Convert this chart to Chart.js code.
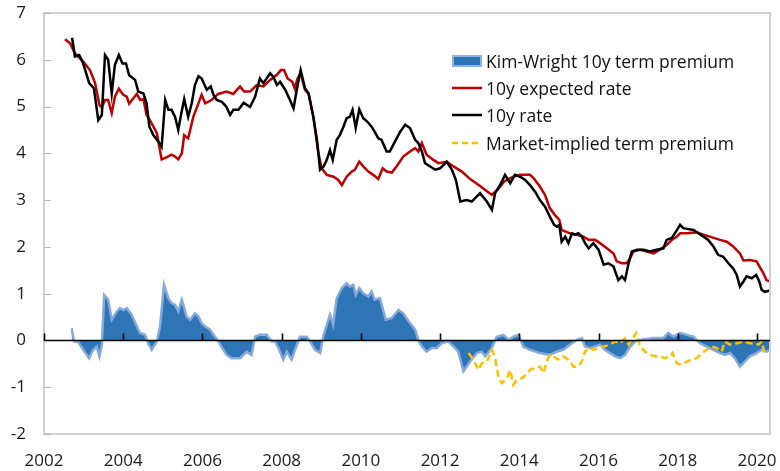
<!DOCTYPE html>
<html>
<head>
<meta charset="utf-8">
<script src="https://cdn.jsdelivr.net/npm/chart.js@4"></script>
<style>
  html, body { margin: 0; padding: 0; background: #fff; }
  #wrap { position: relative; width: 780px; height: 471px; }
  #legend { position: absolute; left: 452px; top: 47px; font-family: "Open Sans", sans-serif; font-size: 17.5px; color: #111; }
  .row { height: 27.3px; display: flex; align-items: center; white-space: nowrap; }
  .row svg { margin-right: 4px; }
</style>
</head>
<body>
<div id="wrap">
  <canvas id="chart" width="780" height="471"></canvas>
  <div id="legend">
    <div class="row"><svg width="30" height="12"><rect x="1" y="1" width="28" height="10" fill="#2E75B6" stroke="#8FB1E0" stroke-width="2"/></svg>Kim-Wright 10y term premium</div>
    <div class="row"><svg width="30" height="12"><line x1="0" y1="6" x2="30" y2="6" stroke="#C00000" stroke-width="2.5"/></svg>10y expected rate</div>
    <div class="row"><svg width="30" height="12"><line x1="0" y1="6" x2="30" y2="6" stroke="#000" stroke-width="2.5"/></svg>10y rate</div>
    <div class="row"><svg width="30" height="12"><line x1="0" y1="6" x2="30" y2="6" stroke="#FFC000" stroke-width="2.5" stroke-dasharray="6,4"/></svg>Market-implied term premium</div>
  </div>
</div>
<script>
// 10y expected rate (red)
const expYears = [2002.53, 2002.66, 2002.78, 2002.99, 2003.16, 2003.29, 2003.40, 2003.46, 2003.54, 2003.62, 2003.71, 2003.79, 2003.89, 2004.00, 2004.09, 2004.15, 2004.34, 2004.43, 2004.51, 2004.59, 2004.72, 2004.85, 2004.97, 2005.10, 2005.22, 2005.31, 2005.39, 2005.48, 2005.54, 2005.64, 2005.77, 2005.98, 2006.07, 2006.23, 2006.40, 2006.61, 2006.78, 2006.95, 2007.05, 2007.20, 2007.37, 2007.54, 2007.71, 2007.88, 2007.98, 2008.06, 2008.15, 2008.27, 2008.33, 2008.40, 2008.48, 2008.59, 2008.68, 2008.80, 2008.93, 2009.01, 2009.14, 2009.31, 2009.43, 2009.52, 2009.64, 2009.77, 2009.85, 2009.96, 2010.06, 2010.19, 2010.31, 2010.44, 2010.55, 2010.65, 2010.78, 2010.91, 2011.07, 2011.24, 2011.37, 2011.45, 2011.54, 2011.66, 2011.83, 2011.96, 2012.17, 2012.34, 2012.55, 2012.76, 2013.01, 2013.20, 2013.31, 2013.48, 2013.62, 2013.85, 2014.02, 2014.27, 2014.36, 2014.52, 2014.65, 2014.77, 2014.90, 2015.01, 2015.07, 2015.16, 2015.28, 2015.45, 2015.62, 2015.75, 2015.91, 2016.04, 2016.21, 2016.38, 2016.46, 2016.59, 2016.71, 2016.80, 2016.88, 2017.05, 2017.22, 2017.39, 2017.55, 2017.72, 2017.85, 2017.98, 2018.06, 2018.23, 2018.48, 2018.65, 2018.81, 2019.07, 2019.24, 2019.40, 2019.57, 2019.66, 2019.83, 2019.99, 2020.16, 2020.24, 2020.33];
const expValues = [6.44, 6.35, 6.14, 5.96, 5.78, 5.50, 5.03, 4.98, 5.14, 5.14, 4.86, 5.21, 5.38, 5.25, 5.21, 5.06, 5.27, 5.14, 5.16, 4.82, 4.64, 4.43, 3.87, 3.92, 3.97, 3.93, 3.87, 4.00, 4.39, 4.32, 4.78, 5.25, 5.07, 5.14, 5.27, 5.32, 5.27, 5.43, 5.32, 5.32, 5.46, 5.43, 5.57, 5.68, 5.78, 5.78, 5.60, 5.53, 5.39, 5.60, 5.71, 5.35, 5.28, 4.78, 4.00, 3.68, 3.54, 3.50, 3.43, 3.32, 3.50, 3.61, 3.65, 3.82, 3.72, 3.61, 3.54, 3.45, 3.68, 3.61, 3.59, 3.73, 3.93, 4.04, 4.11, 4.04, 4.22, 3.97, 3.86, 3.79, 3.82, 3.72, 3.61, 3.45, 3.30, 3.18, 3.11, 3.25, 3.40, 3.50, 3.54, 3.54, 3.47, 3.29, 3.11, 2.83, 2.68, 2.58, 2.36, 2.33, 2.29, 2.26, 2.22, 2.15, 2.15, 2.08, 1.97, 1.86, 1.69, 1.65, 1.65, 1.76, 1.90, 1.94, 1.90, 1.86, 1.94, 2.04, 2.15, 2.22, 2.29, 2.29, 2.31, 2.26, 2.22, 2.15, 2.11, 2.01, 1.86, 1.71, 1.72, 1.69, 1.44, 1.29, 1.26];

// 10y rate (black)
const rateYears = [2002.71, 2002.78, 2002.89, 2002.99, 2003.14, 2003.26, 2003.37, 2003.46, 2003.54, 2003.62, 2003.71, 2003.79, 2003.89, 2003.98, 2004.07, 2004.15, 2004.30, 2004.38, 2004.51, 2004.59, 2004.66, 2004.76, 2004.89, 2004.97, 2005.06, 2005.14, 2005.22, 2005.31, 2005.39, 2005.45, 2005.54, 2005.64, 2005.73, 2005.81, 2005.90, 2005.98, 2006.11, 2006.21, 2006.28, 2006.36, 2006.49, 2006.60, 2006.70, 2006.78, 2006.91, 2007.04, 2007.20, 2007.33, 2007.45, 2007.54, 2007.71, 2007.79, 2007.88, 2007.96, 2008.09, 2008.21, 2008.30, 2008.38, 2008.48, 2008.59, 2008.68, 2008.80, 2008.89, 2008.97, 2009.06, 2009.14, 2009.22, 2009.29, 2009.39, 2009.47, 2009.56, 2009.64, 2009.72, 2009.79, 2009.87, 2009.96, 2010.06, 2010.16, 2010.27, 2010.35, 2010.44, 2010.52, 2010.65, 2010.73, 2010.86, 2010.99, 2011.12, 2011.24, 2011.37, 2011.45, 2011.54, 2011.62, 2011.75, 2011.88, 2012.00, 2012.17, 2012.30, 2012.40, 2012.51, 2012.67, 2012.80, 2013.01, 2013.18, 2013.31, 2013.39, 2013.52, 2013.64, 2013.77, 2013.89, 2014.02, 2014.15, 2014.27, 2014.40, 2014.52, 2014.65, 2014.77, 2014.88, 2014.95, 2015.01, 2015.07, 2015.16, 2015.24, 2015.33, 2015.41, 2015.49, 2015.58, 2015.66, 2015.75, 2015.87, 2016.00, 2016.13, 2016.25, 2016.38, 2016.50, 2016.59, 2016.67, 2016.76, 2016.84, 2016.97, 2017.14, 2017.30, 2017.47, 2017.64, 2017.72, 2017.85, 2017.96, 2018.06, 2018.14, 2018.27, 2018.40, 2018.52, 2018.65, 2018.77, 2018.90, 2019.02, 2019.15, 2019.28, 2019.40, 2019.49, 2019.57, 2019.66, 2019.74, 2019.87, 2019.98, 2020.06, 2020.12, 2020.20, 2020.33];
const rateValues = [6.47, 6.07, 6.10, 5.92, 5.50, 5.39, 4.71, 4.82, 6.10, 6.00, 5.28, 5.89, 6.10, 5.92, 5.92, 5.67, 5.57, 5.32, 5.28, 5.07, 4.57, 4.39, 4.25, 4.14, 5.14, 4.93, 4.93, 4.78, 4.50, 4.78, 5.16, 4.78, 5.07, 5.46, 5.65, 5.60, 5.36, 5.43, 5.25, 5.14, 5.10, 5.00, 4.82, 4.93, 4.93, 5.08, 4.99, 5.21, 5.60, 5.50, 5.71, 5.64, 5.46, 5.53, 5.36, 5.14, 4.96, 5.35, 5.78, 5.39, 5.28, 4.78, 4.29, 3.65, 3.72, 3.86, 4.07, 3.86, 4.29, 4.39, 4.57, 4.75, 4.78, 4.93, 4.54, 4.94, 4.75, 4.68, 4.57, 4.46, 4.32, 4.29, 4.04, 4.04, 4.25, 4.46, 4.61, 4.54, 4.29, 4.22, 4.04, 3.79, 3.72, 3.65, 3.68, 3.82, 3.65, 3.43, 2.97, 3.00, 2.97, 3.15, 2.97, 2.79, 3.15, 3.33, 3.54, 3.36, 3.54, 3.50, 3.43, 3.32, 3.18, 3.00, 2.86, 2.65, 2.47, 2.43, 2.47, 2.11, 2.22, 2.08, 2.29, 2.26, 2.29, 2.22, 2.08, 1.97, 2.08, 1.94, 1.62, 1.65, 1.58, 1.29, 1.37, 1.29, 1.65, 1.90, 1.94, 1.94, 1.90, 1.94, 1.97, 2.15, 2.19, 2.33, 2.47, 2.40, 2.38, 2.36, 2.29, 2.22, 2.15, 2.01, 1.83, 1.79, 1.65, 1.54, 1.40, 1.15, 1.26, 1.37, 1.33, 1.40, 1.26, 1.08, 1.04, 1.07];

// Kim-Wright 10y term premium (blue area)
const tpYears = [2002.70, 2002.76, 2002.87, 2002.99, 2003.14, 2003.24, 2003.33, 2003.40, 2003.46, 2003.52, 2003.62, 2003.71, 2003.84, 2003.92, 2004.00, 2004.09, 2004.21, 2004.34, 2004.42, 2004.55, 2004.63, 2004.72, 2004.85, 2004.93, 2005.03, 2005.14, 2005.22, 2005.31, 2005.39, 2005.48, 2005.60, 2005.69, 2005.81, 2005.90, 2005.98, 2006.07, 2006.19, 2006.28, 2006.40, 2006.53, 2006.61, 2006.74, 2006.95, 2007.12, 2007.24, 2007.33, 2007.45, 2007.62, 2007.75, 2007.83, 2007.92, 2008.04, 2008.13, 2008.25, 2008.34, 2008.46, 2008.63, 2008.72, 2008.84, 2008.97, 2009.05, 2009.14, 2009.22, 2009.30, 2009.39, 2009.52, 2009.64, 2009.72, 2009.81, 2009.87, 2009.96, 2010.06, 2010.19, 2010.27, 2010.35, 2010.48, 2010.63, 2010.78, 2010.95, 2011.07, 2011.24, 2011.37, 2011.45, 2011.54, 2011.66, 2011.79, 2011.92, 2012.04, 2012.21, 2012.34, 2012.46, 2012.59, 2012.76, 2012.93, 2013.05, 2013.14, 2013.31, 2013.43, 2013.60, 2013.73, 2013.85, 2013.98, 2014.10, 2014.27, 2014.52, 2014.77, 2014.94, 2015.11, 2015.28, 2015.45, 2015.58, 2015.66, 2015.79, 2015.91, 2016.04, 2016.16, 2016.29, 2016.42, 2016.55, 2016.67, 2016.80, 2016.93, 2017.05, 2017.39, 2017.64, 2017.76, 2017.89, 2018.06, 2018.23, 2018.40, 2018.56, 2018.73, 2018.90, 2019.07, 2019.19, 2019.32, 2019.44, 2019.57, 2019.70, 2019.82, 2019.99, 2020.12, 2020.24, 2020.33];
const tpValues = [0.26, -0.02, -0.04, -0.20, -0.38, -0.20, -0.13, -0.34, -0.09, 0.97, 0.87, 0.44, 0.62, 0.69, 0.65, 0.69, 0.55, 0.31, 0.16, 0.12, -0.06, -0.20, -0.02, 0.30, 1.19, 0.90, 0.80, 0.76, 0.62, 0.87, 0.51, 0.44, 0.58, 0.51, 0.37, 0.30, 0.23, 0.12, -0.02, -0.20, -0.31, -0.38, -0.38, -0.24, -0.31, 0.08, 0.12, 0.12, -0.02, -0.02, -0.16, -0.41, -0.24, -0.41, -0.20, 0.08, 0.08, -0.02, -0.20, -0.27, 0.08, 0.33, 0.55, 0.33, 0.90, 1.12, 1.22, 1.15, 1.19, 0.97, 1.12, 1.01, 0.94, 1.05, 0.87, 0.90, 0.44, 0.48, 0.65, 0.58, 0.37, 0.23, 0.01, -0.13, -0.24, -0.16, -0.16, -0.06, -0.02, -0.13, -0.24, -0.66, -0.45, -0.27, -0.24, -0.34, -0.16, 0.08, 0.12, 0.01, 0.08, 0.12, -0.13, -0.20, -0.27, -0.31, -0.24, -0.20, -0.09, 0.01, 0.05, -0.13, -0.16, -0.13, -0.09, -0.20, -0.27, -0.34, -0.38, -0.31, -0.13, -0.02, 0.01, 0.05, 0.05, 0.16, 0.08, 0.16, 0.12, 0.08, -0.06, -0.13, -0.20, -0.27, -0.31, -0.27, -0.38, -0.56, -0.45, -0.34, -0.27, -0.20, -0.24, -0.20];

// Market-implied term premium (yellow dashed)
const mktYears = [2012.72, 2012.84, 2012.97, 2013.05, 2013.18, 2013.31, 2013.39, 2013.48, 2013.56, 2013.69, 2013.77, 2013.85, 2013.94, 2014.06, 2014.19, 2014.27, 2014.40, 2014.52, 2014.61, 2014.69, 2014.77, 2014.86, 2014.98, 2015.11, 2015.24, 2015.37, 2015.49, 2015.58, 2015.66, 2015.75, 2015.87, 2016.00, 2016.13, 2016.29, 2016.42, 2016.55, 2016.67, 2016.76, 2016.84, 2016.95, 2017.05, 2017.18, 2017.30, 2017.43, 2017.55, 2017.68, 2017.81, 2017.87, 2017.98, 2018.10, 2018.23, 2018.35, 2018.48, 2018.61, 2018.73, 2018.86, 2018.98, 2019.11, 2019.19, 2019.32, 2019.49, 2019.66, 2019.82, 2019.95, 2020.04, 2020.12, 2020.20];
const mktValues = [-0.27, -0.41, -0.63, -0.49, -0.45, -0.20, -0.38, -0.81, -0.91, -0.81, -0.63, -0.95, -0.84, -0.81, -0.72, -0.63, -0.59, -0.56, -0.70, -0.45, -0.31, -0.34, -0.41, -0.34, -0.41, -0.56, -0.56, -0.45, -0.24, -0.16, -0.20, -0.16, -0.13, -0.09, -0.02, -0.06, 0.05, -0.09, 0.01, 0.16, -0.13, -0.24, -0.31, -0.34, -0.34, -0.38, -0.34, -0.27, -0.49, -0.52, -0.45, -0.41, -0.38, -0.27, -0.20, -0.13, -0.16, -0.24, -0.02, -0.09, -0.06, -0.02, -0.06, -0.06, -0.09, -0.02, -0.31];

const xTicks = [2002, 2004, 2006, 2008, 2010, 2012, 2014, 2016, 2018, 2020];
const yTicks = [-2, -1, 0, 1, 2, 3, 4, 5, 6, 7];

function toPoints(xs, ys) {
  return xs.map((x, i) => ({ x: x, y: ys[i] }));
}

const FONT = '"Open Sans", sans-serif';

// grey frame + inner y ticks, then the black zero line with year ticks over the area
const framePlugin = {
  id: 'frame',
  afterDraw(chart) {
    const { ctx, chartArea: a } = chart;
    const x = chart.scales.x;
    const y = chart.scales.y;
    ctx.save();
    ctx.strokeStyle = '#d0d0d0';
    ctx.lineWidth = 2;
    ctx.strokeRect(a.left, a.top, a.right - a.left, a.bottom - a.top);
    ctx.strokeStyle = '#b5b5b5';
    ctx.lineWidth = 1;
    yTicks.forEach(v => {
      if (v === 0) return;
      const py = Math.round(y.getPixelForValue(v)) + 0.5;
      ctx.beginPath();
      ctx.moveTo(a.left, py);
      ctx.lineTo(a.left + 7, py);
      ctx.stroke();
    });
    const y0 = y.getPixelForValue(0);
    ctx.strokeStyle = '#000';
    ctx.lineWidth = 1.6;
    ctx.beginPath();
    ctx.moveTo(a.left, y0);
    ctx.lineTo(a.right, y0);
    xTicks.forEach(v => {
      const px = Math.round(x.getPixelForValue(v)) + 0.5;
      ctx.moveTo(px, y0);
      ctx.lineTo(px, y0 - 7);
    });
    ctx.stroke();
    ctx.restore();
  }
};

new Chart(document.getElementById('chart'), {
  type: 'line',
  data: {
    datasets: [
      {
        label: 'Kim-Wright 10y term premium',
        data: toPoints(tpYears, tpValues),
        fill: 'origin',
        backgroundColor: '#2E75B6',
        borderColor: '#86A9DD',
        borderWidth: 2.5,
        pointRadius: 0,
        order: 4
      },
      {
        label: '10y expected rate',
        data: toPoints(expYears, expValues),
        borderColor: '#C00000',
        borderWidth: 2.5,
        pointRadius: 0,
        fill: false,
        order: 3
      },
      {
        label: '10y rate',
        data: toPoints(rateYears, rateValues),
        borderColor: '#000000',
        borderWidth: 2.5,
        pointRadius: 0,
        fill: false,
        order: 2
      },
      {
        label: 'Market-implied term premium',
        data: toPoints(mktYears, mktValues),
        borderColor: '#FFC000',
        borderWidth: 2.5,
        borderDash: [7, 4],
        pointRadius: 0,
        fill: false,
        order: 1
      }
    ]
  },
  options: {
    responsive: false,
    animation: false,
    layout: { padding: { top: 13, right: 10, left: 0, bottom: 0 } },
    plugins: {
      legend: { display: false },
      tooltip: { enabled: false }
    },
    scales: {
      x: {
        type: 'linear',
        min: 2002,
        max: 2020.33,
        afterFit: s => { s.height = 37; s.paddingLeft = 0; s.paddingRight = 0; },
        afterBuildTicks: s => { s.ticks = xTicks.map(v => ({ value: v })); },
        grid: { display: false, drawTicks: false },
        border: { display: false },
        ticks: {
          padding: 17,
          color: '#1a1a1a',
          font: { family: FONT, size: 17 },
          maxRotation: 0,
          autoSkip: false,
          callback: v => String(v)
        }
      },
      y: {
        min: -2,
        max: 7,
        afterFit: s => { s.width = 44; s.paddingTop = 0; s.paddingBottom = 0; },
        afterBuildTicks: s => { s.ticks = yTicks.map(v => ({ value: v })); },
        grid: { display: false, drawTicks: false },
        border: { display: false },
        ticks: {
          padding: 18,
          color: '#1a1a1a',
          font: { family: FONT, size: 17 },
          callback: v => String(v)
        }
      }
    }
  },
  plugins: [framePlugin]
});
</script>
</body>
</html>
